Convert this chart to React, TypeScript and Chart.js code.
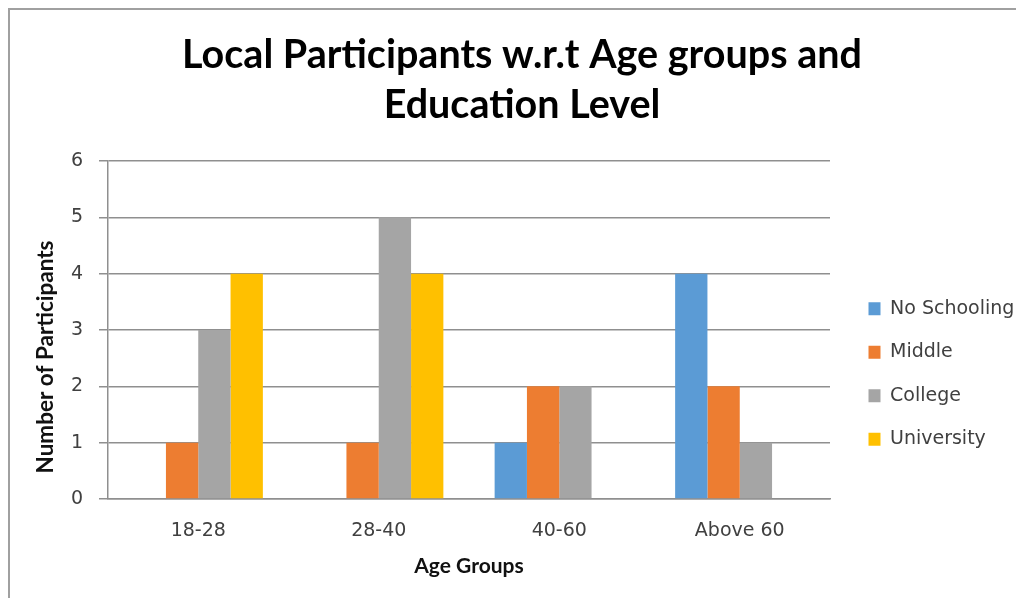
import React, { useEffect, useRef } from 'react';
import { Chart, registerables } from 'chart.js';

Chart.register(...registerables);

// Age groups on the x axis
const AGE_GROUPS = ['18-28', '28-40', '40-60', 'Above 60'];

// Participants per education level, one value per age group
const NO_SCHOOLING = [0, 0, 1, 4];
const MIDDLE = [1, 1, 2, 2];
const COLLEGE = [3, 5, 2, 1];
const UNIVERSITY = [4, 4, 0, 0];

const SERIES_NAMES = ['No Schooling', 'Middle', 'College', 'University'];
const SERIES_COLORS = ['#5B9BD5', '#ED7D31', '#A5A5A5', '#FFC000'];

const TITLE_LINES = ['Local Participants w.r.t Age groups and', 'Education Level'];
const X_TITLE = 'Age Groups';
const Y_TITLE = 'Number of Participants';

const Y_MIN = 0;
const Y_MAX = 6;
const Y_STEP = 1;

const GRID_COLOR = '#8f8f8f';
const TEXT_COLOR = '#404040';
const TICK_FONT = { family: 'DejaVu Sans', size: 19 };
const AXIS_TITLE_FONT = { family: 'Lato', size: 21, weight: 'bold' as const };
const Y_TITLE_SIZE = 22.5;

// Rotated y-axis title, placed a little below the middle of the plot area
const yTitlePlugin = {
  id: 'yTitle',
  afterDraw(chart: Chart) {
    const { ctx, chartArea } = chart;
    ctx.save();
    ctx.translate(chartArea.left - 62, chartArea.bottom - 142);
    ctx.rotate(-Math.PI / 2);
    ctx.font = `bold ${Y_TITLE_SIZE}px ${AXIS_TITLE_FONT.family}`;
    ctx.fillStyle = '#111';
    ctx.textAlign = 'center';
    ctx.textBaseline = 'middle';
    ctx.fillText(Y_TITLE, 0, 0);
    ctx.restore();
  },
};

export default function App() {
  const canvasRef = useRef<HTMLCanvasElement | null>(null);

  useEffect(() => {
    if (!canvasRef.current) return;
    const values = [NO_SCHOOLING, MIDDLE, COLLEGE, UNIVERSITY];
    const chart = new Chart(canvasRef.current, {
      type: 'bar',
      data: {
        labels: AGE_GROUPS,
        datasets: SERIES_NAMES.map((name, i) => ({
          label: name,
          data: values[i],
          backgroundColor: SERIES_COLORS[i],
          borderWidth: 0,
          categoryPercentage: 0.716,
          barPercentage: 1,
        })),
      },
      options: {
        responsive: false,
        animation: false,
        devicePixelRatio: 1,
        layout: { padding: { left: 18, right: 0, top: 0, bottom: 0 } },
        font: { family: 'DejaVu Sans' },
        plugins: {
          title: {
            display: true,
            text: TITLE_LINES,
            color: '#000',
            font: { family: 'Lato', size: 39.5, weight: 'bold', lineHeight: 50 / 39.5 },
            padding: { top: 20, bottom: 31 },
          },
          legend: {
            display: true,
            position: 'right',
            align: 'center',
            fullSize: false,
            maxWidth: 172,
            title: {
              display: true,
              text: ' ',
              font: { size: 1, lineHeight: 1 },
              padding: { top: 87, bottom: 0 },
            },
            labels: {
              boxWidth: 12,
              boxHeight: 13,
              padding: 24.5,
              color: TEXT_COLOR,
              font: { family: 'DejaVu Sans', size: 19 },
            },
          },
          tooltip: { enabled: false },
        },
        scales: {
          x: {
            grid: { display: false, drawTicks: false },
            border: { display: true, color: GRID_COLOR, width: 1.5 },
            ticks: { padding: 21, color: TEXT_COLOR, font: TICK_FONT },
            title: {
              display: true,
              text: X_TITLE,
              color: '#111',
              font: AXIS_TITLE_FONT,
              padding: { top: 0, bottom: 19 },
            },
            afterFit(scale: any) {
              scale.height = 99;
            },
          },
          y: {
            min: Y_MIN,
            max: Y_MAX,
            ticks: { stepSize: Y_STEP, padding: 16, color: TEXT_COLOR, font: TICK_FONT },
            grid: { color: GRID_COLOR, lineWidth: 1.5, tickLength: 9, drawTicks: true },
            border: { display: true, color: GRID_COLOR, width: 1.5 },
            afterFit(scale: any) {
              scale.width = 80;
            },
          },
          // empty strip between the plot and the legend
          gap: {
            type: 'linear',
            position: 'right',
            display: true,
            grid: { display: false },
            border: { display: false },
            ticks: { display: false },
            afterFit(scale: any) {
              scale.width = 14;
            },
          },
        },
      },
      plugins: [yTitlePlugin],
    } as any);
    return () => chart.destroy();
  }, []);

  return (
    <div
      style={{
        width: 1006,
        height: 588,
        borderTop: '2px solid #a0a0a0',
        borderLeft: '2px solid #a0a0a0',
        background: '#fff',
      }}
    >
      <canvas ref={canvasRef} width={1006} height={588} style={{ display: 'block' }} />
    </div>
  );
}
